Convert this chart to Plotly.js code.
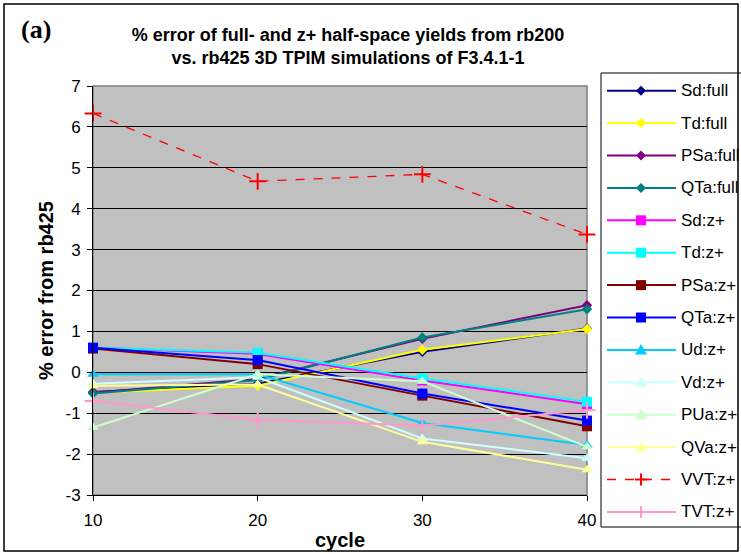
<!DOCTYPE html>
<html>
<head>
<meta charset="utf-8">
<script src="https://cdn.plot.ly/plotly-3.0.1.min.js"></script>
<style>html,body{margin:0;padding:0;background:#fff;}#chart{width:741px;height:554px;}</style>
</head>
<body>
<div id="chart"></div>
<script>
// ---- data ----
const cycles = [10, 20, 30, 40];
const xTickVals = [10, 20, 30, 40];
const xTickText = ["10", "20", "30", "40"];
const yTickVals = [-3, -2, -1, 0, 1, 2, 3, 4, 5, 6, 7];
const yTickText = ["-3", "-2", "-1", "0", "1", "2", "3", "4", "5", "6", "7"];

const seriesNames = ["Sd:full", "Td:full", "PSa:full", "QTa:full",
  "Sd:z+", "Td:z+", "PSa:z+", "QTa:z+",
  "Ud:z+", "Vd:z+", "PUa:z+", "QVa:z+", "VVT:z+", "TVT:z+"];

const sdFull  = [-0.48, -0.28, 0.50, 1.07];
const tdFull  = [-0.50, -0.33, 0.55, 1.06];
const psaFull = [-0.50, -0.16, 0.82, 1.64];
const qtaFull = [-0.52, -0.19, 0.85, 1.54];
const sdZ  = [0.60, 0.45, -0.20, -0.78];
const tdZ  = [0.60, 0.48, -0.15, -0.72];
const psaZ = [0.58, 0.20, -0.57, -1.32];
const qtaZ = [0.60, 0.30, -0.52, -1.18];
const udZ  = [-0.05, -0.05, -1.24, -1.78];
const vdZ  = [-0.28, -0.12, -1.62, -2.10];
const puaZ = [-1.35, -0.05, -0.22, -1.82];
const qvaZ = [-0.33, -0.30, -1.70, -2.38];
const vvtZ = [6.33, 4.67, 4.84, 3.37];
const tvtZ = [-0.70, -1.16, -1.30, -0.93];

const seriesValues = [sdFull, tdFull, psaFull, qtaFull, sdZ, tdZ, psaZ, qtaZ,
  udZ, vdZ, puaZ, qvaZ, vvtZ, tvtZ];

// ---- styles ----
const colors = ["#000080", "#FFFF00", "#800080", "#008080",
  "#FF00FF", "#00FFFF", "#800000", "#0000FF",
  "#00CCFF", "#CCFFFF", "#CCFFCC", "#FFFF99", "#FF0000", "#FF99CC"];
const symbols = ["diamond", "diamond", "diamond", "diamond",
  "square", "square", "square", "square",
  "triangle-up", "triangle-up", "triangle-up", "triangle-up",
  "cross-thin", "cross-thin"];
const sizes = [8, 8, 8, 8, 10, 10, 10, 10, 10, 10, 10, 10, 12, 12];

const FONT = "Liberation Sans, Arial, sans-serif";
const W = 741, H = 554;
const fx = p => p / W;          // pixel -> paper x
const fy = p => 1 - p / H;      // pixel -> paper y

// plot area (pixels)
const PL = 93, PR = 587, PT = 86, PB = 495;
// legend box (pixels)
const LL = 601, LT = 73, LB = 527;
const itemFirst = 90.7, itemStep = 32.4;
const symX0 = 607, symX1 = 676, symCX = 641, textX = 679;

function markerFor(i) {
  const isCross = symbols[i] === "cross-thin";
  return {
    symbol: symbols[i], size: sizes[i], color: colors[i],
    line: isCross ? { color: colors[i], width: 2 } : { width: 0 }
  };
}
function lineFor(i) {
  return { color: colors[i], width: i === 12 ? 1.3 : 2, dash: i === 12 ? "dash" : "solid" };
}

const traces = seriesNames.map((name, i) => ({
  type: "scatter", mode: "lines+markers", name: name,
  x: cycles, y: seriesValues[i],
  line: lineFor(i), marker: markerFor(i),
  showlegend: false, cliponaxis: false
}));

// ---- manual legend (shapes + annotations in paper coordinates) ----
function pathFromPx(pts) {
  return "M" + pts.map(p => fx(p[0]) + "," + fy(p[1])).join("L") + "Z";
}
function legendSymbol(i, cy) {
  const c = colors[i], s = symbols[i], cx = symCX;
  if (s === "diamond") {
    const r = 5;
    return { type: "path", xref: "paper", yref: "paper", fillcolor: c, line: { width: 0 },
      path: pathFromPx([[cx, cy - r], [cx + r, cy], [cx, cy + r], [cx - r, cy]]) };
  }
  if (s === "square") {
    const r = 5;
    return { type: "path", xref: "paper", yref: "paper", fillcolor: c, line: { width: 0 },
      path: pathFromPx([[cx - r, cy - r], [cx + r, cy - r], [cx + r, cy + r], [cx - r, cy + r]]) };
  }
  if (s === "triangle-up") {
    return { type: "path", xref: "paper", yref: "paper", fillcolor: c, line: { width: 0 },
      path: pathFromPx([[cx, cy - 6], [cx + 6, cy + 4.5], [cx - 6, cy + 4.5]]) };
  }
  const r = 6;
  return { type: "path", xref: "paper", yref: "paper", line: { color: c, width: 2 },
    path: "M" + fx(cx - r) + "," + fy(cy) + "L" + fx(cx + r) + "," + fy(cy) +
          "M" + fx(cx) + "," + fy(cy - r) + "L" + fx(cx) + "," + fy(cy + r) };
}

const legendShapes = [];
const legendAnn = [];
seriesNames.forEach((name, i) => {
  const cy = itemFirst + itemStep * i;
  legendShapes.push({ type: "line", xref: "paper", yref: "paper",
    x0: fx(symX0), x1: fx(symX1), y0: fy(cy), y1: fy(cy),
    line: { color: colors[i], width: i === 12 ? 1.3 : 2, dash: i === 12 ? "dash" : "solid" } });
  legendShapes.push(legendSymbol(i, cy));
  legendAnn.push({ text: name, xref: "paper", yref: "paper", x: fx(textX), y: fy(cy),
    xanchor: "left", yanchor: "middle", showarrow: false,
    font: { family: FONT, size: 17, color: "#000" } });
});

const layout = {
  width: W, height: H,
  margin: { l: 0, r: 0, t: 0, b: 0 },
  paper_bgcolor: "#FFFFFF",
  plot_bgcolor: "rgba(0,0,0,0)",
  font: { family: FONT, size: 17, color: "#000" },
  showlegend: false,
  title: {
    text: "% error of full- and z+ half-space yields from rb200<br>vs. rb425 3D TPIM simulations of F3.4.1-1",
    font: { family: FONT, size: 18, weight: "bold", color: "#000" },
    x: 348 / W, xanchor: "center", xref: "container",
    y: 1 - 41 / H, yanchor: "top", yref: "container"
  },
  xaxis: {
    domain: [fx(PL), fx(PR)], anchor: "y",
    range: [10, 40],
    tickvals: xTickVals, ticktext: xTickText,
    showgrid: false, zeroline: false,
    showline: true, linecolor: "#000", linewidth: 1,
    ticks: "outside", ticklen: 5, tickcolor: "#000",
    ticklabelstandoff: 5,
    tickfont: { family: FONT, size: 17 },
    title: { text: "cycle", font: { family: FONT, size: 20, weight: "bold" }, standoff: 3 }
  },
  yaxis: {
    domain: [fy(PB), fy(PT)], anchor: "x",
    range: [-3, 7],
    tickvals: yTickVals, ticktext: yTickText,
    showgrid: true, gridcolor: "#000", gridwidth: 1,
    zeroline: false,
    showline: true, linecolor: "#000", linewidth: 1,
    ticks: "outside", ticklen: 5, tickcolor: "#000",
    ticklabelstandoff: 3,
    tickfont: { family: FONT, size: 17 },
    title: { text: "% error from rb425", font: { family: FONT, size: 20, weight: "bold" }, standoff: 6 }
  },
  shapes: [
    { type: "rect", xref: "paper", yref: "paper",
      x0: fx(PL), x1: fx(PR), y0: fy(PB), y1: fy(PT),
      fillcolor: "#C0C0C0", line: { color: "#808080", width: 1.5 }, layer: "below" },
    { type: "rect", xref: "paper", yref: "paper",
      x0: fx(LL), x1: fx(W + 5), y0: fy(LB), y1: fy(LT),
      line: { color: "#000", width: 1 } },
    { type: "rect", xref: "paper", yref: "paper",
      x0: fx(4), x1: fx(738), y0: fy(551), y1: fy(4),
      line: { color: "#000", width: 1.5 } }
  ].concat(legendShapes),
  annotations: [
    { text: "(a)", xref: "paper", yref: "paper", x: fx(19), y: fy(30),
      xanchor: "left", yanchor: "middle", showarrow: false,
      font: { family: "Liberation Serif, Times New Roman, serif", size: 26, weight: "bold", color: "#000" } }
  ].concat(legendAnn)
};

Plotly.newPlot("chart", traces, layout, { displayModeBar: false, staticPlot: true });
</script>
</body>
</html>
